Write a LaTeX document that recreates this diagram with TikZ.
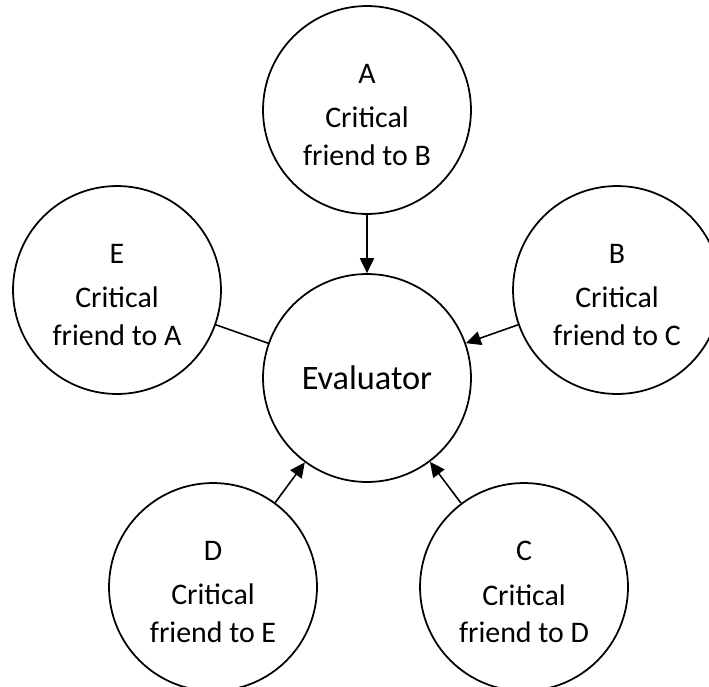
\documentclass[tikz,border=0pt]{standalone}
\usepackage{fontspec}
\setmainfont{Carlito}
\usetikzlibrary{arrows.meta}
\begin{document}
\begin{tikzpicture}[x=0.02cm, y=-0.02cm]
  \tikzstyle{ami}=[circle, draw=black, line width=1pt, inner sep=0pt,
  minimum size=4.16cm, align=center, text=black]
  \tikzstyle{texte}=[align=center, yshift=-0.1cm,
  font=\fontsize{17}{21.5}\selectfont]
  \tikzstyle{fleche}=[-{Triangle[length=8.5pt, width=8pt]}, line width=0.9pt]
  \useasboundingbox (0,0) rectangle (709,686);
  \node[ami, font=\fontsize{19.5}{24}\selectfont] (ev) at (367,378) {Evaluator};
  \foreach \n/\x/\y/\t in {A/367/110/B,B/617/290/C,C/524/587/D,D/213/587/E,E/117/290/A} {
    \node[ami, label={[texte]center:\n\\[4pt]Critical\\friend to \t}] (\n) at (\x,\y) {};
  }
  \foreach \a in {A,B,C,D} {
    \draw[fleche] (\a) -- (ev);
  }
  \draw[line width=0.9pt] (E) -- (ev);
\end{tikzpicture}
\end{document}
